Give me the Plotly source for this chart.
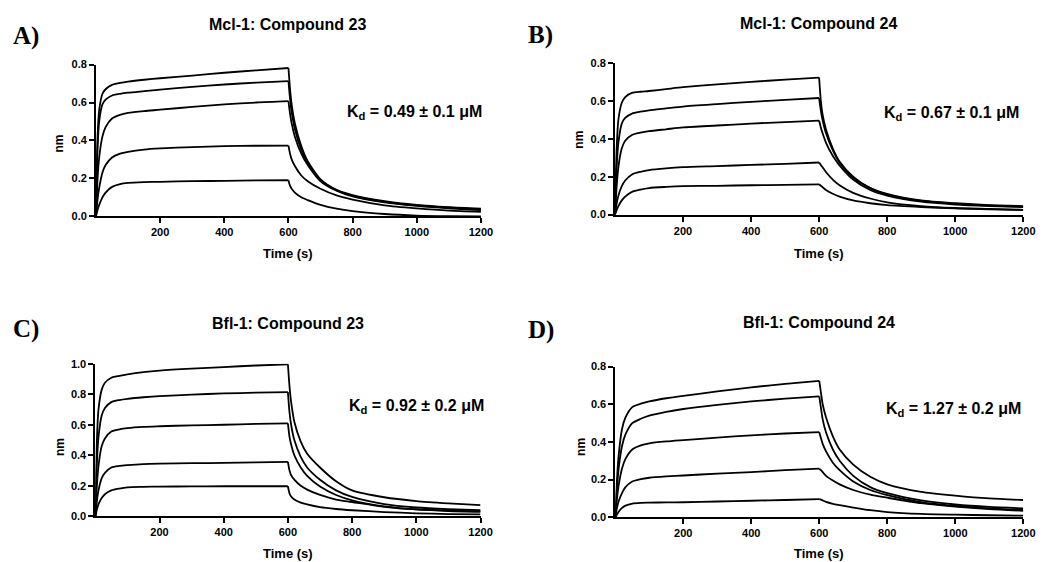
import plotly.graph_objects as go

# ---------------- data ----------------
t_assoc = [0, 5, 10, 20, 30, 50, 75, 100, 150, 200, 300, 400, 500, 600]
t_dissoc = [605, 610, 620, 640, 660, 700, 750, 800, 900, 1000, 1100, 1200]
time_s = t_assoc + t_dissoc

x_ticks = [200, 400, 600, 800, 1000, 1200]
x_tick_text = ["200", "400", "600", "800", "1000", "1200"]
y_ticks_08 = [0.0, 0.2, 0.4, 0.6, 0.8]
y_ticks_10 = [0.0, 0.2, 0.4, 0.6, 0.8, 1.0]

# Panel A: Mcl-1 / Compound 23
a1 = [0, 0.42, 0.56, 0.645, 0.67, 0.693, 0.703, 0.71, 0.72, 0.728, 0.742, 0.757, 0.77, 0.782,
      0.67, 0.59, 0.49, 0.37, 0.29, 0.195, 0.14, 0.112, 0.08, 0.06, 0.048, 0.04]
a2 = [0, 0.36, 0.50, 0.59, 0.615, 0.637, 0.646, 0.652, 0.66, 0.668, 0.682, 0.695, 0.705, 0.713,
      0.62, 0.55, 0.46, 0.35, 0.28, 0.19, 0.137, 0.108, 0.076, 0.057, 0.045, 0.036]
a3 = [0, 0.2, 0.31, 0.42, 0.47, 0.516, 0.535, 0.545, 0.555, 0.562, 0.577, 0.59, 0.6, 0.607,
      0.54, 0.49, 0.42, 0.33, 0.27, 0.185, 0.135, 0.105, 0.073, 0.055, 0.042, 0.033]
a4 = [0, 0.09, 0.15, 0.23, 0.27, 0.31, 0.33, 0.34, 0.352, 0.358, 0.365, 0.37, 0.372, 0.373,
      0.33, 0.3, 0.265, 0.215, 0.185, 0.145, 0.11, 0.088, 0.058, 0.042, 0.03, 0.024]
a5 = [0, 0.035, 0.06, 0.1, 0.125, 0.155, 0.17, 0.176, 0.18, 0.182, 0.185, 0.187, 0.189, 0.19,
      0.16, 0.145, 0.125, 0.1, 0.085, 0.06, 0.04, 0.027, 0.012, 0.004, 0.001, 0.0]

# Panel B: Mcl-1 / Compound 24
b1 = [0, 0.35, 0.5, 0.59, 0.62, 0.642, 0.648, 0.652, 0.662, 0.672, 0.687, 0.7, 0.712, 0.723,
      0.6, 0.53, 0.45, 0.35, 0.28, 0.2, 0.14, 0.11, 0.075, 0.06, 0.05, 0.045]
b2 = [0, 0.25, 0.38, 0.48, 0.51, 0.533, 0.543, 0.55, 0.56, 0.57, 0.583, 0.595, 0.605, 0.615,
      0.55, 0.5, 0.43, 0.34, 0.275, 0.195, 0.14, 0.105, 0.072, 0.057, 0.048, 0.042]
b3 = [0, 0.15, 0.25, 0.35, 0.39, 0.42, 0.432, 0.44, 0.45, 0.46, 0.47, 0.48, 0.488, 0.496,
      0.46, 0.43, 0.38, 0.31, 0.26, 0.185, 0.13, 0.1, 0.068, 0.053, 0.045, 0.04]
b4 = [0, 0.06, 0.1, 0.15, 0.18, 0.212, 0.226, 0.235, 0.244, 0.25, 0.256, 0.262, 0.268, 0.275,
      0.262, 0.25, 0.225, 0.185, 0.155, 0.115, 0.085, 0.065, 0.045, 0.035, 0.03, 0.025]
b5 = [0, 0.025, 0.045, 0.075, 0.095, 0.12, 0.132, 0.14, 0.146, 0.15, 0.152, 0.155, 0.157, 0.16,
      0.152, 0.145, 0.13, 0.11, 0.095, 0.075, 0.06, 0.05, 0.04, 0.033, 0.028, 0.025]

# Panel C: Bfl-1 / Compound 23
c1 = [0, 0.5, 0.7, 0.83, 0.875, 0.908, 0.92, 0.93, 0.945, 0.955, 0.968, 0.978, 0.988, 0.996,
      0.85, 0.75, 0.62, 0.49, 0.41, 0.32, 0.23, 0.17, 0.125, 0.1, 0.085, 0.073]
c2 = [0, 0.35, 0.52, 0.66, 0.71, 0.748, 0.762, 0.77, 0.78, 0.787, 0.797, 0.805, 0.81, 0.814,
      0.68, 0.6, 0.5, 0.39, 0.32, 0.24, 0.17, 0.127, 0.08, 0.058, 0.047, 0.04]
c3 = [0, 0.2, 0.33, 0.46, 0.51, 0.556, 0.57, 0.578, 0.586, 0.59, 0.596, 0.6, 0.605, 0.609,
      0.52, 0.47, 0.4, 0.32, 0.265, 0.195, 0.14, 0.105, 0.065, 0.045, 0.038, 0.034]
c4 = [0, 0.1, 0.17, 0.25, 0.285, 0.32, 0.33, 0.335, 0.342, 0.345, 0.348, 0.35, 0.354, 0.357,
      0.3, 0.27, 0.24, 0.2, 0.175, 0.14, 0.11, 0.094, 0.062, 0.045, 0.035, 0.03]
c5 = [0, 0.045, 0.08, 0.12, 0.145, 0.17, 0.182, 0.19, 0.193, 0.195, 0.196, 0.197, 0.197, 0.197,
      0.15, 0.13, 0.11, 0.09, 0.078, 0.06, 0.048, 0.04, 0.028, 0.02, 0.015, 0.013]

# Panel D: Bfl-1 / Compound 24
d1 = [0, 0.2, 0.33, 0.47, 0.53, 0.585, 0.603, 0.615, 0.632, 0.645, 0.668, 0.69, 0.708, 0.724,
      0.66, 0.6, 0.53, 0.43, 0.36, 0.28, 0.215, 0.175, 0.135, 0.115, 0.1, 0.092]
d2 = [0, 0.15, 0.26, 0.38, 0.44, 0.5, 0.523, 0.54, 0.56, 0.575, 0.597, 0.615, 0.63, 0.642,
      0.58, 0.52, 0.45, 0.36, 0.3, 0.22, 0.16, 0.128, 0.09, 0.068, 0.055, 0.048]
d3 = [0, 0.1, 0.17, 0.26, 0.31, 0.36, 0.382, 0.393, 0.403, 0.41, 0.423, 0.435, 0.445, 0.452,
      0.42, 0.39, 0.35, 0.29, 0.25, 0.19, 0.145, 0.118, 0.08, 0.06, 0.048, 0.04]
d4 = [0, 0.05, 0.085, 0.13, 0.16, 0.19, 0.203, 0.21, 0.217, 0.222, 0.232, 0.24, 0.25, 0.258,
      0.25, 0.24, 0.22, 0.195, 0.175, 0.145, 0.12, 0.104, 0.075, 0.057, 0.044, 0.035]
d5 = [0, 0.015, 0.03, 0.05, 0.062, 0.073, 0.077, 0.078, 0.079, 0.08, 0.084, 0.088, 0.092, 0.097,
      0.094, 0.09, 0.082, 0.072, 0.065, 0.052, 0.038, 0.028, 0.018, 0.014, 0.011, 0.009]

panel_titles = ["Mcl-1: Compound 23", "Mcl-1: Compound 24",
                "Bfl-1: Compound 23", "Bfl-1: Compound 24"]
panel_letters = ["A)", "B)", "C)", "D)"]
kd_texts = ["K<sub>d</sub> = 0.49 ± 0.1 μM", "K<sub>d</sub> = 0.67 ± 0.1 μM",
            "K<sub>d</sub> = 0.92 ± 0.2 μM", "K<sub>d</sub> = 1.27 ± 0.2 μM"]

panel_curves = [[a1, a2, a3, a4, a5], [b1, b2, b3, b4, b5],
                [c1, c2, c3, c4, c5], [d1, d2, d3, d4, d5]]
y_maxes = [0.8, 0.8, 1.0, 0.8]

# ---------------- layout geometry (pixels) ----------------
W, H = 1050, 562
boxes = [(89, 478.4, 206.7, 51.7),
         (614, 1027, 205, 50),
         (88.3, 478, 513.3, 357.3),
         (614.3, 1027, 514.3, 360.3)]
title_pos = [(283, 11), (820, 10), (283, 316), (820, 315)]
letter_pos = [(18, 22), (539, 21), (18, 322), (539, 323)]
kd_pos = [(411, 101), (954, 102), (413, 401), (956, 404)]
nm_pos = [(52, 132), (578, 128), (52, 442), (579, 442)]
time_pos = [(283, 245), (820, 245), (283, 551), (820, 551)]

FONT = "Liberation Sans, Arial, sans-serif"
n_assoc = len(t_assoc)

fig = go.Figure()
layout = dict(width=W, height=H, margin=dict(l=0, r=0, t=0, b=0),
              paper_bgcolor="white", plot_bgcolor="white", showlegend=False)
annotations = []

for i in range(4):
    xa = "xaxis" if i == 0 else f"xaxis{i+1}"
    ya = "yaxis" if i == 0 else f"yaxis{i+1}"
    xref = "x" if i == 0 else f"x{i+1}"
    yref = "y" if i == 0 else f"y{i+1}"
    xl, xr, yb, yt = boxes[i]
    for curve in panel_curves[i]:
        # association phase
        fig.add_trace(go.Scatter(x=time_s[:n_assoc], y=curve[:n_assoc], mode="lines",
                                 line=dict(color="black", width=1.8, shape="spline",
                                           smoothing=0.7),
                                 xaxis=xref, yaxis=yref, hoverinfo="skip"))
        # dissociation phase
        fig.add_trace(go.Scatter(x=time_s[n_assoc - 1:], y=curve[n_assoc - 1:], mode="lines",
                                 line=dict(color="black", width=1.8, shape="spline",
                                           smoothing=0.7),
                                 xaxis=xref, yaxis=yref, hoverinfo="skip"))
    ymax = y_maxes[i]
    yt_vals = y_ticks_10 if ymax == 1.0 else y_ticks_08
    layout[xa] = dict(domain=[xl / W, xr / W], range=[0, 1200], anchor=yref,
                      showline=True, linecolor="black", linewidth=1.8,
                      ticks="outside", ticklen=5, tickwidth=1.5, tickcolor="black",
                      tickvals=x_ticks, ticktext=x_tick_text,
                      tickfont=dict(family=FONT, size=11, color="black", weight="bold"),
                      showgrid=False, zeroline=False, fixedrange=True)
    layout[ya] = dict(domain=[1 - yb / H, 1 - yt / H], range=[0, ymax], anchor=xref,
                      showline=True, linecolor="black", linewidth=1.8,
                      ticks="outside", ticklen=5, tickwidth=1.5, tickcolor="black",
                      tickvals=yt_vals, ticktext=[f"{v:.1f}" for v in yt_vals],
                      tickfont=dict(family=FONT, size=11, color="black", weight="bold"),
                      showgrid=False, zeroline=False, fixedrange=True)

    annotations.append(dict(text=f"<b>{panel_titles[i]}</b>", x=title_pos[i][0] / W,
                            y=1 - title_pos[i][1] / H, xref="paper", yref="paper",
                            xanchor="center", yanchor="middle", showarrow=False,
                            font=dict(family=FONT, size=16, color="black")))
    annotations.append(dict(text=f"<b>{panel_letters[i]}</b>", x=letter_pos[i][0] / W,
                            y=1 - letter_pos[i][1] / H, xref="paper", yref="paper",
                            xanchor="center", yanchor="middle", showarrow=False,
                            font=dict(family="Liberation Serif, Times New Roman, serif",
                                      size=25, color="black")))
    annotations.append(dict(text=f"<b>{kd_texts[i]}</b>", x=kd_pos[i][0] / W,
                            y=1 - kd_pos[i][1] / H, xref="paper", yref="paper",
                            xanchor="center", yanchor="middle", showarrow=False,
                            font=dict(family=FONT, size=16, color="black")))
    annotations.append(dict(text="<b>nm</b>", x=nm_pos[i][0] / W,
                            y=1 - nm_pos[i][1] / H, xref="paper", yref="paper",
                            xanchor="center", yanchor="middle", showarrow=False,
                            textangle=-90,
                            font=dict(family=FONT, size=12, color="black")))
    annotations.append(dict(text="<b>Time (s)</b>", x=time_pos[i][0] / W,
                            y=1 - time_pos[i][1] / H, xref="paper", yref="paper",
                            xanchor="center", yanchor="middle", showarrow=False,
                            font=dict(family=FONT, size=13, color="black")))

layout["annotations"] = annotations
fig.update_layout(**layout)
fig.write_html("out.html")
